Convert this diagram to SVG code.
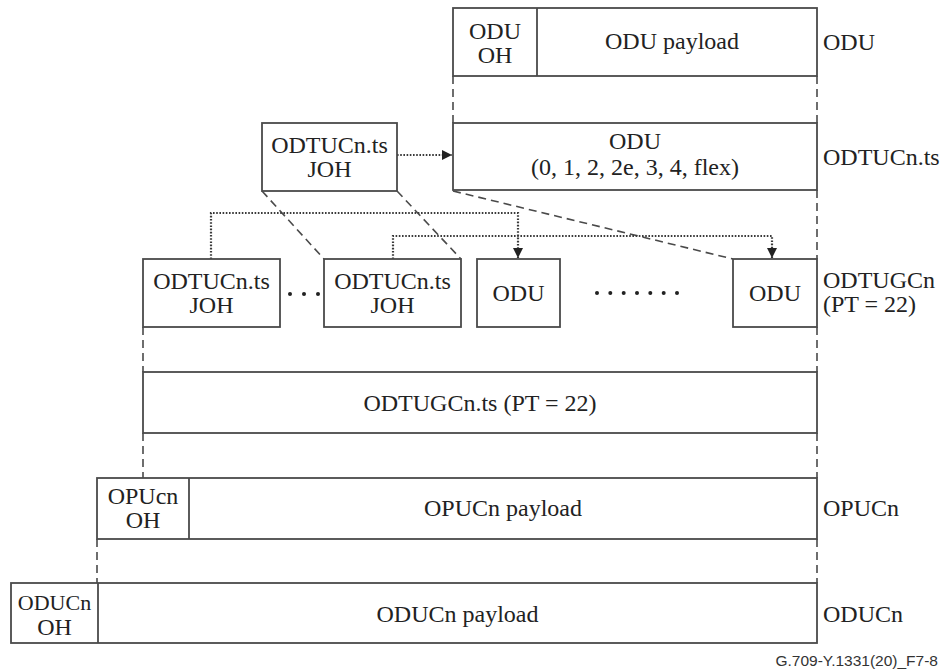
<svg xmlns="http://www.w3.org/2000/svg" width="943" height="672" viewBox="0 0 943 672">
<style>
.box{fill:#fff;stroke:#4a4a4a;stroke-width:1.8}
.t{font-family:"Liberation Serif","Times New Roman",serif;font-size:24px;fill:#222}
.c{text-anchor:middle}
.dash{fill:none;stroke:#4a4a4a;stroke-width:1.6;stroke-dasharray:8 5}
.dot{fill:none;stroke:#3a3a3a;stroke-width:2.2;stroke-dasharray:1.6 1.6}
.cap{font-family:"Liberation Sans",Arial,sans-serif;font-size:15.5px;fill:#333;text-anchor:end}
</style>
<defs>
<marker id="ah" viewBox="0 0 10 10" refX="10" refY="5" markerWidth="11" markerHeight="10" markerUnits="userSpaceOnUse" orient="auto">
<path d="M0,0 L10,5 L0,10 Z" fill="#222"/>
</marker>
</defs>
<rect width="943" height="672" fill="#fff"/>
<g id="connectors">
<path class="dash" d="M453,76 V123 M817,76 V123 M817,190 V259 M817,327 V372 M817,433 V478 M817,539 V583 M143,327 V372 M143,433 V478 M97,539 V583"/>
<path class="dash" d="M262,191 L324,259 M397,191 L461,259 M453,191 L733,259"/>
<path class="dot" d="M397,155 H452" marker-end="url(#ah)"/>
<path class="dot" d="M211,259 V213 H518 V258" marker-end="url(#ah)"/>
<path class="dot" d="M393,259 V236 H772 V258" marker-end="url(#ah)"/>
</g>
<g id="odu">
<rect class="box" x="453" y="8" width="364" height="68"/>
<line class="box" x1="537" y1="8" x2="537" y2="76"/>
<text class="t c" x="495" y="39">ODU</text>
<text class="t c" x="495" y="63">OH</text>
<text class="t c" x="672" y="49">ODU payload</text>
<text class="t" x="823" y="50">ODU</text>
</g>
<g id="odtucn-ts-joh">
<rect class="box" x="262" y="123" width="135" height="68"/>
<text class="t c" x="329.5" y="153">ODTUCn.ts</text>
<text class="t c" x="329.5" y="177">JOH</text>
</g>
<g id="odtucn-ts">
<rect class="box" x="453" y="123" width="364" height="67"/>
<text class="t c" x="635" y="149">ODU</text>
<text class="t c" x="635" y="175">(0, 1, 2, 2e, 3, 4, flex)</text>
<text class="t" x="823" y="165">ODTUCn.ts</text>
</g>
<g id="odtugcn">
<rect class="box" x="143" y="259" width="137" height="68"/>
<text class="t c" x="211.5" y="289">ODTUCn.ts</text>
<text class="t c" x="211.5" y="313">JOH</text>
<g fill="#222"><circle cx="290" cy="294" r="2"/><circle cx="304" cy="294" r="2"/><circle cx="318" cy="294" r="2"/></g>
<rect class="box" x="324" y="259" width="137" height="68"/>
<text class="t c" x="392.5" y="289">ODTUCn.ts</text>
<text class="t c" x="392.5" y="313">JOH</text>
<rect class="box" x="477" y="259" width="83" height="68"/>
<text class="t c" x="518.5" y="301">ODU</text>
<g fill="#222"><circle cx="597" cy="293" r="2"/><circle cx="610.3" cy="293" r="2"/><circle cx="623.7" cy="293" r="2"/><circle cx="637" cy="293" r="2"/><circle cx="650.3" cy="293" r="2"/><circle cx="663.7" cy="293" r="2"/><circle cx="677" cy="293" r="2"/></g>
<rect class="box" x="733" y="259" width="84" height="68"/>
<text class="t c" x="775" y="301">ODU</text>
<text class="t" x="823" y="288">ODTUGCn</text>
<text class="t" x="823" y="312">(PT = 22)</text>
</g>
<g id="odtugcn-ts">
<rect class="box" x="143" y="372" width="674" height="61"/>
<text class="t c" x="480" y="411">ODTUGCn.ts (PT = 22)</text>
</g>
<g id="opucn">
<rect class="box" x="97" y="478" width="720" height="61"/>
<line class="box" x1="189" y1="478" x2="189" y2="539"/>
<text class="t c" x="143" y="504">OPUcn</text>
<text class="t c" x="143" y="528">OH</text>
<text class="t c" x="503" y="516">OPUCn payload</text>
<text class="t" x="823" y="516">OPUCn</text>
</g>
<g id="oducn">
<rect class="box" x="11" y="583" width="806" height="60"/>
<line class="box" x1="98" y1="583" x2="98" y2="643"/>
<text class="t c" x="54.5" y="610" style="font-size:22px">ODUCn</text>
<text class="t c" x="54.5" y="635">OH</text>
<text class="t c" x="457.5" y="622">ODUCn payload</text>
<text class="t" x="823" y="622">ODUCn</text>
</g>
<text class="cap" x="938" y="666">G.709-Y.1331(20)_F7-8</text>
</svg>
